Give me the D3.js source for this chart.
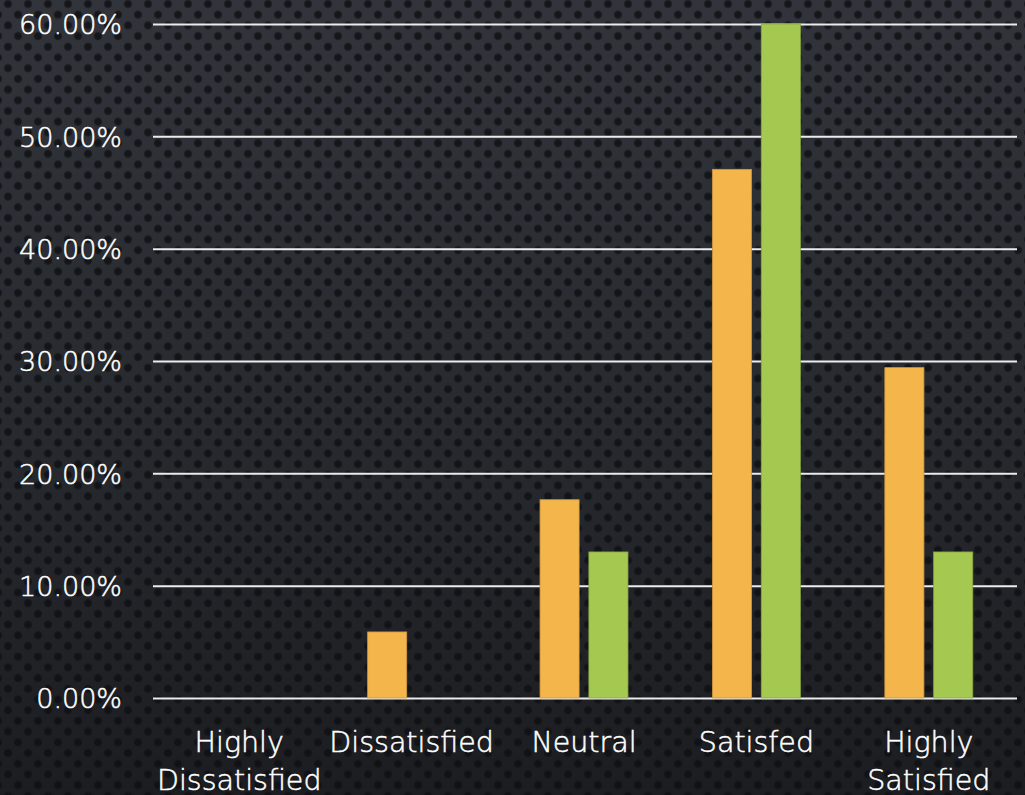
<!DOCTYPE html>
<html>
<head>
<meta charset="utf-8">
<script src="https://cdn.jsdelivr.net/npm/d3@7/dist/d3.min.js"></script>
<style>
  html, body { margin: 0; padding: 0; background: #25272c; }
  svg { display: block; }
  text { font-family: "DejaVu Sans", sans-serif; font-weight: 200; }
</style>
</head>
<body>
<svg id="chart" width="1025" height="795"></svg>
<script>
// ---- data ----
const categories = ["Highly Dissatisfied", "Dissatisfied", "Neutral", "Satisfed", "Highly Satisfied"];
const seriesNames = ["Series A", "Series B"];
const seriesA = [0, 0.0588, 0.1765, 0.4706, 0.2941];
const seriesB = [0, 0, 0.13, 0.60, 0.13];
const yTicks = [0, 0.1, 0.2, 0.3, 0.4, 0.5, 0.6];
const colors = ["#F4B54B", "#A5C950"];

const W = 1025, H = 795;
const svg = d3.select("#chart");
const defs = svg.append("defs");

// background gradient + dot pattern
const lg = defs.append("linearGradient").attr("id", "bg").attr("x1", 0).attr("y1", 0).attr("x2", 0).attr("y2", 1);
lg.append("stop").attr("offset", "0%").attr("stop-color", "#31343a");
lg.append("stop").attr("offset", "55%").attr("stop-color", "#26292e");
lg.append("stop").attr("offset", "100%").attr("stop-color", "#1c1d21");

const rg = defs.append("radialGradient").attr("id", "dot");
rg.append("stop").attr("offset", "0%").attr("stop-color", "#0e0f12").attr("stop-opacity", 0.85);
rg.append("stop").attr("offset", "65%").attr("stop-color", "#0e0f12").attr("stop-opacity", 0.75);
rg.append("stop").attr("offset", "100%").attr("stop-color", "#0e0f12").attr("stop-opacity", 0);

const pat = defs.append("pattern").attr("id", "dots").attr("patternUnits", "userSpaceOnUse")
  .attr("width", 20).attr("height", 21.4).attr("x", 8).attr("y", 4);
[[0, 0], [20, 0], [0, 21.4], [20, 21.4], [10, 10.7]].forEach(([cx, cy]) => {
  pat.append("circle").attr("cx", cx).attr("cy", cy).attr("r", 4.8).attr("fill", "url(#dot)");
});

svg.append("rect").attr("width", W).attr("height", H).attr("fill", "url(#bg)");
svg.append("rect").attr("width", W).attr("height", H).attr("fill", "url(#dots)");

// ---- scales ----
const plot = { left: 153, right: 1015, top: 24, bottom: 698 };
const y = d3.scaleLinear().domain([0, 0.6]).range([plot.bottom, plot.top]);
const x0 = d3.scaleBand().domain(categories).range([plot.left, plot.right])
  .paddingInner(0.49).paddingOuter(0.245);
const x1 = d3.scaleBand().domain(seriesNames).range([0, x0.bandwidth()]).paddingInner(0.2);

// ---- gridlines + y labels ----
const yAxis = svg.append("g").attr("transform", `translate(${plot.left},0)`)
  .call(d3.axisLeft(y).tickValues(yTicks).tickFormat(d3.format(".2%"))
    .tickSize(-(1017 - plot.left)).tickPadding(31));
yAxis.select(".domain").remove();
yAxis.selectAll(".tick line").attr("stroke", "#ececec").attr("stroke-width", 2);
yAxis.selectAll(".tick text").attr("fill", "#ffffff").attr("font-size", 27)
  .attr("font-family", "DejaVu Sans, sans-serif").attr("font-weight", 200)
  .attr("stroke", "#ffffff").attr("stroke-width", 0.5)
  .attr("dy", "0.36em");

// ---- bars ----
const data = categories.map((c, i) => ({ cat: c, vals: [seriesA[i], seriesB[i]] }));
const groups = svg.append("g").selectAll("g").data(data).join("g")
  .attr("transform", d => `translate(${x0(d.cat)},0)`);
groups.selectAll("rect").data(d => d.vals.map((v, j) => ({ v, s: seriesNames[j], j })))
  .join("rect")
  .filter(d => d.v > 0)
  .attr("x", d => x1(d.s))
  .attr("width", x1.bandwidth())
  .attr("y", d => y(d.v))
  .attr("height", d => y(0) - y(d.v))
  .attr("fill", d => colors[d.j])
  .attr("stroke", d => d3.color(colors[d.j]).darker(0.5))
  .attr("stroke-width", 0.8);

// ---- x labels ----
const xAxis = svg.append("g").attr("transform", `translate(0,${plot.bottom})`)
  .call(d3.axisBottom(x0).tickSize(0).tickFormat(""));
xAxis.select(".domain").remove();
xAxis.selectAll(".tick").each(function(d) {
  const words = d.split(" ");
  const t = d3.select(this).append("text")
    .attr("fill", "#ffffff").attr("font-size", 28.5)
    .attr("font-family", "DejaVu Sans, sans-serif").attr("font-weight", 200)
    .attr("stroke", "#ffffff").attr("stroke-width", 0.5)
    .attr("text-anchor", "middle");
  words.forEach((w, k) => {
    t.append("tspan").attr("x", 0).attr("y", 54 + k * 38).text(w);
  });
});
</script>
</body>
</html>
